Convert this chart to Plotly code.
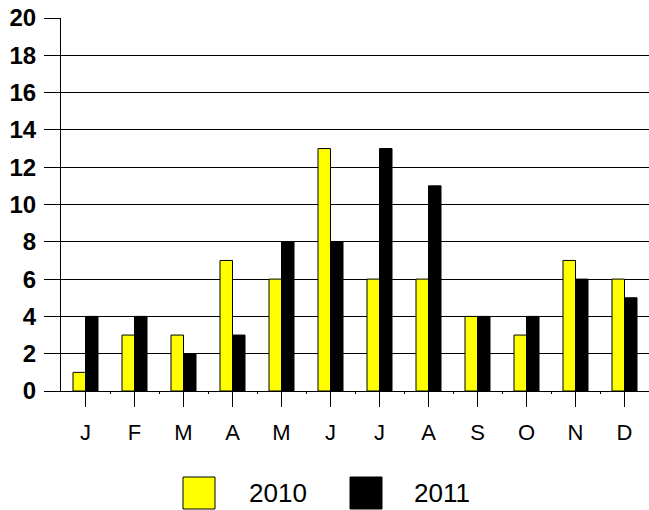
import plotly.graph_objects as go

months = ["J", "F", "M", "A", "M", "J", "J", "A", "S", "O", "N", "D"]
y2010 = [1, 3, 3, 7, 6, 13, 6, 6, 4, 3, 7, 6]
y2011 = [4, 4, 2, 3, 8, 8, 13, 11, 4, 4, 6, 5]
series_names = ["2010", "2011"]
yticks = list(range(0, 21, 2))

xs = list(range(len(months)))
FONT = "Liberation Sans, Arial, sans-serif"

fig = go.Figure()
fig.add_trace(go.Bar(x=xs, y=y2010, name=series_names[0], marker=dict(color="#ffff00", line=dict(color="#000000", width=1)), showlegend=False))
fig.add_trace(go.Bar(x=xs, y=y2011, name=series_names[1], marker=dict(color="#000000", line=dict(color="#000000", width=1)), showlegend=False))

L, R, T, B = 61, 0, 18, 119
W, H = 649, 510
pw = W - L - R
ph = H - T - B

def px(xp):
    return (xp - L) / pw

def py(yp):
    return (H - B - yp) / ph

for (x0, col, name, tx) in [(183, "#ffff00", series_names[0], 247), (350, "#000000", series_names[1], 412)]:
    fig.add_shape(type="rect", xref="paper", yref="paper", x0=px(x0), x1=px(x0 + 32), y0=py(509), y1=py(477),
                  fillcolor=col, line=dict(color="#000000", width=1))
    fig.add_annotation(xref="paper", yref="paper", x=px(tx), y=py(493), xanchor="left", yanchor="middle",
                       text=name, showarrow=False, font=dict(size=26, color="#000000", family=FONT))

fig.update_layout(
    template="none",
    width=W, height=H,
    margin=dict(l=L, r=R, t=T, b=B),
    paper_bgcolor="white", plot_bgcolor="white",
    barmode="group", bargap=0.49, bargroupgap=0,
    font=dict(family=FONT, color="#000000"),
)
fig.update_xaxes(
    range=[-0.5, 11.5], tickvals=xs, ticktext=months,
    showline=True, linecolor="#000000", linewidth=1,
    ticks="outside", ticklen=15, tickcolor="#000000", tickwidth=1,
    tickfont=dict(size=22, family=FONT, color="#000000"),
    ticklabelstandoff=7,
    minor=dict(tickvals=[x + 0.5 for x in xs[:-1]], ticks="outside", ticklen=2, tickcolor="#000000", tickwidth=1, showgrid=False),
    showgrid=False, zeroline=False,
)
fig.update_yaxes(
    range=[0, 20], tickvals=yticks,
    showline=True, linecolor="#000000", linewidth=1,
    ticks="outside", ticklen=16, tickcolor="#000000", tickwidth=1,
    tickfont=dict(size=24, family=FONT, color="#000000", weight="bold"),
    ticklabelstandoff=3,
    showgrid=True, gridcolor="#000000", gridwidth=1, zeroline=False,
)

fig.write_html("out.html", post_script="document.body.style.margin='0';", config={"displayModeBar": False})
